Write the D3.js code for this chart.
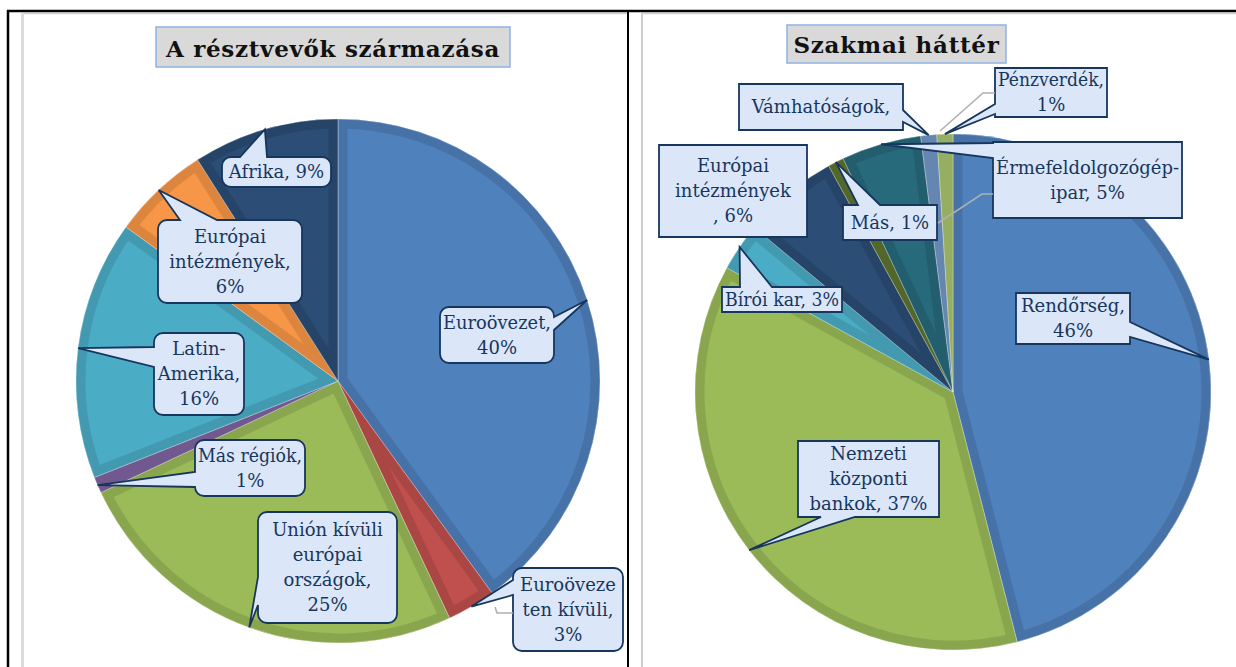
<!DOCTYPE html>
<html>
<head>
<meta charset="utf-8">
<script src="https://cdn.jsdelivr.net/npm/d3@7"></script>
<style>
  body { margin: 0; background: #fff; }
  text { font-family: "DejaVu Serif", "Liberation Serif", serif; }
</style>
</head>
<body>
<svg id="chart" width="1236" height="667"></svg>
<script>
// ---- data: A résztvevők származása
const originNames = ["Euroövezet", "Euroövezeten kívüli", "Unión kívüli európai országok", "Más régiók", "Latin-Amerika", "Európai intézmények", "Afrika"];
const originValues = [40, 3, 25, 1, 16, 6, 9];
const originLines = [["Euroövezet,", "{v}%"], ["Euroöveze", "ten kívüli,", "{v}%"], ["Unión kívüli", "európai", "országok,", "{v}%"],
  ["Más régiók,", "{v}%"], ["Latin-", "Amerika,", "{v}%"], ["Európai", "intézmények,", "{v}%"], ["Afrika, {v}%"]];
const originColors = ["#4F81BD", "#C0504D", "#9BBB59", "#8064A2", "#4BACC6", "#F79646", "#2C4D75"];

// ---- data: Szakmai háttér
const bgNames = ["Rendőrség", "Nemzeti központi bankok", "Bírói kar", "Európai intézmények", "Más", "Érmefeldolgozógép-ipar", "Vámhatóságok", "Pénzverdék"];
const bgValues = [46, 37, 3, 6, 1, 5, 1, 1];
const bgLines = [["Rendőrség,", "{v}%"], ["Nemzeti", "központi", "bankok, {v}%"], ["Bírói kar, {v}%"], ["Európai", "intézmények", ", {v}%"],
  ["Más, {v}%"], ["Érmefeldolgozógép-", "ipar, {v}%"], ["Vámhatóságok,"], ["Pénzverdék,", "{v}%"]];
const bgColors = ["#4F81BD", "#9BBB59", "#4BACC6", "#2C4D75", "#5F7530", "#276A7C", "#7297C5", "#A9C46E"];

// callout box layout (label positions, not data)
const originBoxes = [
  {x0: 440, y0: 307, x1: 554, y1: 363, side: "right", b0: 317, b1: 330},
  {x0: 513, y0: 568, x1: 623, y1: 651, side: "left", b0: 580, b1: 595},
  {x0: 258, y0: 512, x1: 397, y1: 623, side: "left", b0: 577, b1: 605},
  {x0: 195, y0: 440, x1: 305, y1: 496, side: "left", b0: 472, b1: 487},
  {x0: 154, y0: 333, x1: 244, y1: 415, side: "left", b0: 347, b1: 367},
  {x0: 158, y0: 220, x1: 302, y1: 303, side: "top", b0: 180, b1: 217},
  {x0: 222, y0: 157, x1: 331, y1: 187, side: "top", b0: 240, b1: 267}
];
const bgBoxes = [
  {x0: 1016, y0: 293, x1: 1130, y1: 344, side: "right", b0: 322, b1: 337},
  {x0: 798, y0: 441, x1: 939, y1: 517, side: "bottom", b0: 821, b1: 855},
  {x0: 722, y0: 287, x1: 842, y1: 312, side: "top", b0: 740, b1: 772},
  {x0: 659, y0: 145, x1: 807, y1: 237, side: null},
  {x0: 843, y0: 205, x1: 937, y1: 240, side: "top", b0: 858, b1: 880},
  {x0: 993, y0: 142, x1: 1182, y1: 218, side: "left", b0: 143, b1: 158},
  {x0: 739, y0: 84, x1: 903, y1: 130, side: "right", b0: 110, b1: 122},
  {x0: 995, y0: 68, x1: 1107, y1: 117, side: "left", b0: 104, b1: 114}
];

const svg = d3.select("#chart");
const defs = svg.append("defs");

// frame of the table
const frame = svg.append("g");
frame.append("line").attr("x1", 22).attr("x2", 627).attr("y1", 13.5).attr("y2", 13.5).attr("stroke", "#d0d0d0").attr("stroke-width", 1.5);
frame.append("line").attr("x1", 642).attr("x2", 1236).attr("y1", 13.5).attr("y2", 13.5).attr("stroke", "#d0d0d0").attr("stroke-width", 1.5);
frame.append("line").attr("x1", 22.5).attr("x2", 22.5).attr("y1", 13).attr("y2", 667).attr("stroke", "#dcdcdc").attr("stroke-width", 3);
frame.append("line").attr("x1", 642).attr("x2", 642).attr("y1", 13).attr("y2", 667).attr("stroke", "#cfcfcf").attr("stroke-width", 2);
frame.append("line").attr("x1", 7).attr("x2", 1236).attr("y1", 11).attr("y2", 11).attr("stroke", "#000").attr("stroke-width", 2.5);
frame.append("line").attr("x1", 8).attr("x2", 8).attr("y1", 10).attr("y2", 667).attr("stroke", "#000").attr("stroke-width", 2.5);
frame.append("line").attr("x1", 628).attr("x2", 628).attr("y1", 10).attr("y2", 667).attr("stroke", "#000").attr("stroke-width", 2);

function title(x0, y0, x1, y1, txt, base, size) {
  svg.append("rect").attr("x", x0).attr("y", y0).attr("width", x1 - x0).attr("height", y1 - y0)
    .attr("fill", "#d9d9d9").attr("stroke", "#8db3e2").attr("stroke-width", 1.5);
  svg.append("text").attr("x", (x0 + x1) / 2).attr("y", base).attr("text-anchor", "middle")
    .attr("font-weight", "bold").attr("font-size", size).attr("letter-spacing", 0.7).attr("fill", "#111").text(txt);
}

// callout outline: (rounded) box with a wedge pointing at tip
function calloutPath(b, tip, rx) {
  const p = d3.path();
  const {x0, y0, x1, y1, side, b0, b1} = b;
  p.moveTo(x0 + rx, y0);
  if (side === "top") { p.lineTo(b0, y0); p.lineTo(tip[0], tip[1]); p.lineTo(b1, y0); }
  p.lineTo(x1 - rx, y0);
  if (rx) p.arcTo(x1, y0, x1, y0 + rx, rx);
  if (side === "right") { p.lineTo(x1, b0); p.lineTo(tip[0], tip[1]); p.lineTo(x1, b1); }
  p.lineTo(x1, y1 - rx);
  if (rx) p.arcTo(x1, y1, x1 - rx, y1, rx);
  if (side === "bottom") { p.lineTo(b1, y1); p.lineTo(tip[0], tip[1]); p.lineTo(b0, y1); }
  p.lineTo(x0 + rx, y1);
  if (rx) p.arcTo(x0, y1, x0, y1 - rx, rx);
  if (side === "left") { p.lineTo(x0, b1); p.lineTo(tip[0], tip[1]); p.lineTo(x0, b0); }
  p.lineTo(x0, y0 + rx);
  if (rx) p.arcTo(x0, y0, x0 + rx, y0, rx);
  p.closePath();
  return p.toString();
}

function pieChart(id, cx, cy, r, values, colors, lines, boxes, rx) {
  const pie = d3.pie().sort(null).value(d => d);
  const arcs = pie(values);
  const arc = d3.arc().innerRadius(0).outerRadius(r);
  const g = svg.append("g").attr("transform", `translate(${cx},${cy})`);

  arcs.forEach((a, i) => {
    const cid = id + "-clip-" + i;
    defs.append("clipPath").attr("id", cid).append("path").attr("d", arc(a));
    const s = g.append("g");
    s.append("path").attr("d", arc(a)).attr("fill", colors[i]);
    // darker bevel band along the inside of each slice
    s.append("path").attr("d", arc(a)).attr("clip-path", `url(#${cid})`)
      .attr("fill", "none").attr("stroke", d3.color(colors[i]).darker(0.4)).attr("stroke-width", 19)
      .attr("stroke-linejoin", "round").attr("stroke-opacity", 0.85);
    s.append("path").attr("d", arc(a)).attr("fill", "none").attr("stroke", "rgba(255,255,255,0.4)").attr("stroke-width", 0.8);
  });

  // tip of each callout: outer edge of the slice at its middle angle
  const tips = arcs.map(a => {
    const m = (a.startAngle + a.endAngle) / 2;
    return [cx + r * Math.sin(m), cy - r * Math.cos(m)];
  });

  const lab = svg.append("g");
  arcs.forEach((a, i) => {
    const b = boxes[i];
    lab.append("path").attr("d", calloutPath(b, tips[i], rx))
      .attr("fill", "#dbe6f8").attr("stroke", "#17365d").attr("stroke-width", 1.8).attr("stroke-linejoin", "miter");
    const ls = lines[i].map(s => s.replace("{v}", values[i]));
    const fs = 18, lh = 25;
    const first = (b.y0 + b.y1) / 2 - (ls.length - 1) * lh / 2 + 0.36 * fs;
    const t = lab.append("text").attr("text-anchor", "middle").attr("font-size", fs).attr("fill", "#17365d");
    ls.forEach((s, k) => {
      const ts = t.append("tspan").attr("x", (b.x0 + b.x1) / 2).attr("y", first + k * lh).text(s);
      // squeeze lines that would run past the box edges
      const room = b.x1 - b.x0 - 6;
      if (ts.node().getComputedTextLength() > room) ts.attr("textLength", room).attr("lengthAdjust", "spacingAndGlyphs");
    });
  });
  return tips;
}

title(156, 27, 510, 67, "A résztvevők származása", 57, 23);
title(787, 25, 1006, 63, "Szakmai háttér", 53, 23);

// grey leader lines (drawn over the slices, under the callouts)
const leaders = svg.append("g").attr("fill", "none").attr("stroke", "#b0b0b0").attr("stroke-width", 1.6);
leaders.append("polyline").attr("points", "495,607 497,613 513,613");
leaders.append("polyline").attr("points", "940,131 983,93 995,93");
leaders.append("polyline").attr("points", "938,223 982,194 993,194");

pieChart("origin", 338, 381, 262, originValues, originColors, originLines, originBoxes, 9);
pieChart("bg", 953, 392, 258, bgValues, bgColors, bgLines, bgBoxes, 0);
svg.node().appendChild(leaders.node());
</script>
</body>
</html>
